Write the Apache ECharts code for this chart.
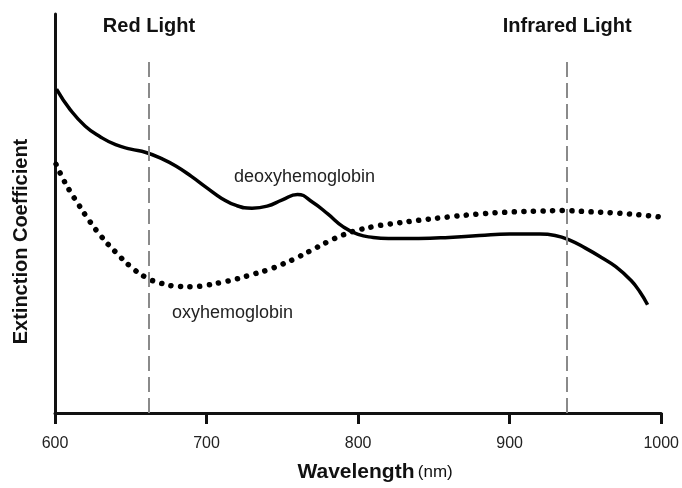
<!DOCTYPE html>
<html>
<head>
<meta charset="utf-8">
<script src="https://cdn.jsdelivr.net/npm/echarts@6/dist/echarts.min.js"></script>
<style>
html,body{margin:0;padding:0;background:#fff;}
#chart{width:682px;height:488px;}
</style>
</head>
<body>
<div id="chart"></div>
<script>
const deoxyWavelength = [601, 610, 620, 630, 640, 650, 660, 670, 680, 690, 700, 710, 720, 730, 740, 750, 760, 770, 780, 790, 800, 810, 820, 840, 860, 880, 900, 920, 930, 940, 950, 960, 970, 980, 986, 991];
const deoxyValues     = [332, 311, 294, 283, 275, 270.5, 267, 261, 253, 242.5, 231, 220, 212.5, 210, 212, 218.5, 224, 216, 204, 191, 183, 180, 179, 179, 180, 182, 183.5, 183.5, 182, 177, 169, 160, 150, 136, 124, 111];

const oxyWavelength = [600.7, 605, 610, 615, 620, 630, 640, 650, 660, 670, 680, 690, 700, 710, 720, 730, 740, 750, 760, 770, 780, 790, 800, 810, 820, 840, 860, 880, 900, 920, 935, 950, 970, 990, 999];
const oxyValues     = [255, 241, 227, 215, 203, 182, 165, 150, 139, 133, 130, 129.5, 131, 134, 137.5, 142, 146.5, 152.5, 159.5, 167.5, 175.5, 182.5, 187.5, 191, 193.5, 197.5, 201, 204, 206, 207, 207.5, 206.5, 205, 202.5, 201];

const xTicks = [600, 700, 800, 900, 1000];
const bandNames = ['Red Light', 'Infrared Light'];
const bandWavelengths = [662, 938];
const seriesNames = ['deoxyhemoglobin', 'oxyhemoglobin'];

const zip = (xs, ys) => xs.map((x, i) => [x, ys[i]]);

const chart = echarts.init(document.getElementById('chart'), null, {renderer: 'canvas'});
const ink = '#111';
chart.setOption({
  backgroundColor: '#ffffff',
  animation: false,
  grid: {left: 55, right: 18, top: 14, bottom: 65},
  xAxis: {
    type: 'value',
    min: xTicks[0],
    max: xTicks[xTicks.length - 1],
    interval: 100,
    name: '{b|Wavelength} {n|(nm)}',
    nameLocation: 'middle',
    nameGap: 49,
    nameTextStyle: {
      padding: [0, 0, 0, 34],
      rich: {
        b: {fontFamily: 'Liberation Sans, Arial', fontSize: 21, fontWeight: 'bold', color: ink},
        n: {fontFamily: 'Liberation Sans, Arial', fontSize: 17, color: ink}
      }
    },
    axisLine: {show: true, lineStyle: {color: ink, width: 3}},
    axisTick: {show: true, length: 11, lineStyle: {color: ink, width: 3}},
    axisLabel: {margin: 23, fontFamily: 'Liberation Sans, Arial', fontSize: 16, color: '#222', formatter: v => String(v)},
    splitLine: {show: false}
  },
  yAxis: {
    type: 'value',
    min: 0,
    max: 409,
    name: 'Extinction Coefficient',
    nameLocation: 'middle',
    nameGap: 24,
    nameTextStyle: {fontFamily: 'Liberation Sans, Arial', fontSize: 20, fontWeight: 'bold', color: ink, padding: [0, 56, 0, 0]},
    axisLine: {show: true, lineStyle: {color: ink, width: 3}},
    axisTick: {show: false},
    axisLabel: {show: false},
    splitLine: {show: false}
  },
  series: [
    {
      name: seriesNames[0],
      type: 'line',
      data: zip(deoxyWavelength, deoxyValues),
      smooth: 0.5,
      showSymbol: false,
      lineStyle: {color: '#000', width: 3.5},
      z: 3,
      markLine: {
        silent: true,
        symbol: ['none', 'none'],
        lineStyle: {color: '#8a8a8a', width: 2, type: [15, 6]},
        label: {
          show: true,
          position: 'end',
          distance: 24,
          formatter: p => p.name,
          fontFamily: 'Liberation Sans, Arial',
          fontSize: 20,
          fontWeight: 'bold',
          color: ink
        },
        data: bandWavelengths.map((w, i) => [
          {name: bandNames[i], coord: [w, 0]},
          {coord: [w, 361]}
        ])
      }
    },
    {
      name: seriesNames[1],
      type: 'line',
      data: zip(oxyWavelength, oxyValues),
      smooth: 0.5,
      showSymbol: false,
      lineStyle: {color: '#000', width: 5.5, type: [0.1, 9.5], cap: 'round'},
      z: 3
    }
  ],
  graphic: [
    {type: 'text', left: 234, top: 168, style: {text: seriesNames[0], font: '18px "Liberation Sans", Arial', fill: '#222'}},
    {type: 'text', left: 172, top: 304, style: {text: seriesNames[1], font: '18px "Liberation Sans", Arial', fill: '#222'}}
  ]
});
</script>
</body>
</html>
